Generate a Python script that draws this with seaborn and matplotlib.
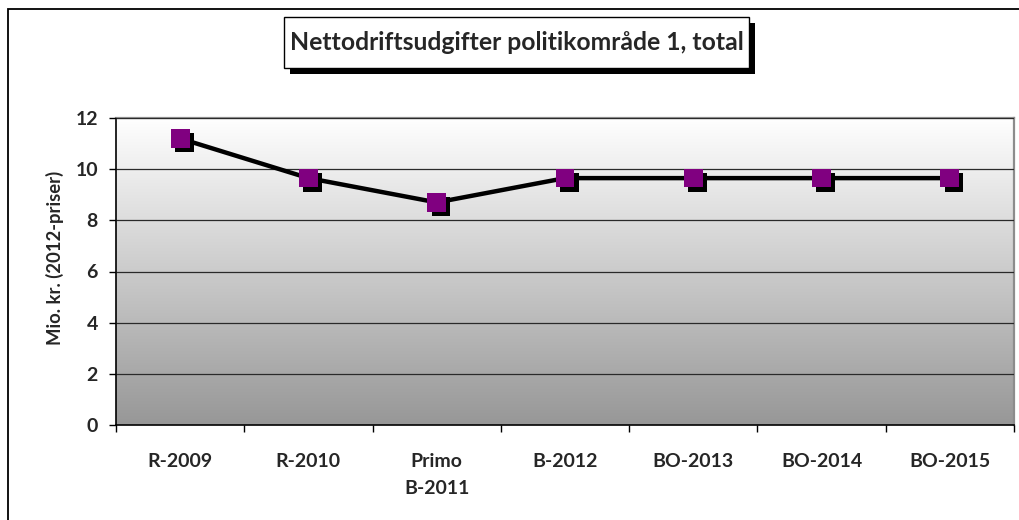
import numpy as np
import seaborn as sns
import matplotlib.pyplot as plt
import matplotlib.patheffects as pe
from matplotlib.patches import Rectangle

# chart data
categories = ['R-2009', 'R-2010', 'Primo\nB-2011', 'B-2012', 'BO-2013', 'BO-2014', 'BO-2015']
values = [11.2, 9.65, 8.7, 9.65, 9.65, 9.65, 9.65]
y_ticks = [0, 2, 4, 6, 8, 10, 12]

title = 'Nettodriftsudgifter politikområde 1, total'
ylabel = 'Mio. kr. (2012-priser)'

sns.set_style('white')
plt.rcParams['font.family'] = ['Lato', 'DejaVu Sans']
plt.rcParams['font.weight'] = 'bold'

W, H = 1019, 520
fig = plt.figure(figsize=(W / 100, H / 100), dpi=100)
fig.patch.set_facecolor('white')
ax = fig.add_axes([116 / W, 1 - 425 / H, (1014 - 116) / W, (425 - 118) / H])

# gradient plot area background
grad = np.linspace(1, 0, 256).reshape(-1, 1)
ax.imshow(grad, cmap=sns.blend_palette(['#979797', '#ffffff'], as_cmap=True),
          extent=[0, 1, 0, 1], transform=ax.transAxes, aspect='auto', zorder=0)

sns.lineplot(x=categories, y=values, sort=False, color='black', lw=3.2, ax=ax, zorder=3)
sns.scatterplot(x=categories, y=values, marker='s', s=13.5 ** 2, color='#800080',
                edgecolor='none', linewidth=0, ax=ax, zorder=4,
                path_effects=[pe.SimplePatchShadow(offset=(3, -3), shadow_rgbFace='black', alpha=1),
                              pe.Normal()])

ax.set_xlim(-0.5, len(categories) - 0.5)
ax.set_ylim(0, 12)
ax.set_yticks(y_ticks)
ax.yaxis.grid(True, color='#2a2a2a', lw=0.9)
ax.set_axisbelow(False)
for line in ax.get_ygridlines():
    line.set_zorder(1)

ax.set_xticks(np.arange(len(categories) + 1) - 0.5, minor=True)
ax.tick_params(axis='x', which='major', length=0, pad=20, labelsize=14)
ax.tick_params(axis='x', which='minor', length=5, width=1, color='black', direction='out', bottom=True)
ax.tick_params(axis='y', length=5, width=1, color='black', direction='out', left=True, pad=8, labelsize=14)
for lab in ax.get_xticklabels():
    lab.set_linespacing(1.75)
    lab.set_fontweight('bold')
for lab in ax.get_yticklabels():
    lab.set_fontweight('bold')

ax.set_xlabel('')
ax.set_ylabel(ylabel, fontsize=13.3, fontweight='bold')
ax.yaxis.set_label_coords(-0.058, 0.545)

for s in ['left', 'bottom']:
    ax.spines[s].set_color('black')
    ax.spines[s].set_linewidth(1.2)
for s in ['top', 'right']:
    ax.spines[s].set_color('#8c8c8c')
    ax.spines[s].set_linewidth(1.6)
    ax.spines[s].set_visible(True)

# outer chart border (cut off at right and bottom in the reference)
fig.add_artist(Rectangle((8 / W, -0.1), 1.2, 1 - 8.5 / H + 0.1, fill=False,
                         ec='black', lw=1.3, transform=fig.transFigure))

# title box with shadow
bx0, bx1, by0, by1 = 284, 749, 17, 68
fig.add_artist(Rectangle(((bx0 + 6) / W, 1 - (by1 + 6) / H), (bx1 - bx0) / W, (by1 - by0) / H,
                         fc='black', ec='none', transform=fig.transFigure))
fig.add_artist(Rectangle((bx0 / W, 1 - by1 / H), (bx1 - bx0) / W, (by1 - by0) / H,
                         fc='white', ec='black', lw=1, transform=fig.transFigure))
fig.text((bx0 + bx1) / 2 / W, 1 - (by0 + by1) / 2 / H, title, ha='center', va='center',
         fontsize=17.8, fontweight='bold')

fig.savefig('out.png', dpi=100)
